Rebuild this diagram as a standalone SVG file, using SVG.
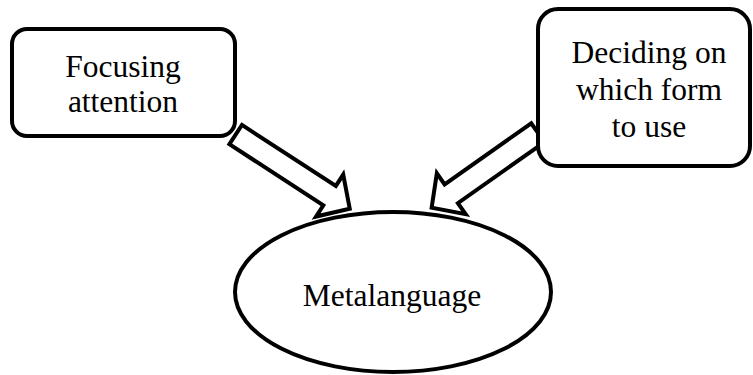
<svg xmlns="http://www.w3.org/2000/svg" width="753" height="375" viewBox="0 0 753 375">
<style>
.shape{fill:#fff;stroke:#000;stroke-width:4}
.arrow{fill:#fff;stroke:#000;stroke-width:4;stroke-linejoin:miter}
.lbl{font-family:"Liberation Serif","Times New Roman",serif;font-size:31.5px;fill:#000;text-anchor:middle}
</style>
<rect width="753" height="375" fill="#fff"/>
<g id="connectors">
<path class="arrow" transform="translate(234,133.5) rotate(33)" d="M2,-11.5 L114,-11.5 L114,-25 L138,0 L114,25 L114,11.5 L2,11.5 Z"/>
<path class="arrow" transform="translate(539.5,131.5) rotate(144.8)" d="M2,-11.5 L108,-11.5 L108,-25 L132,0 L108,25 L108,11.5 L2,11.5 Z"/>
</g>
<g id="node-focusing">
<rect class="shape" x="12" y="29" width="223" height="107" rx="15"/>
<text class="lbl" x="123" y="77">Focusing</text>
<text class="lbl" x="123" y="112">attention</text>
</g>
<g id="node-deciding">
<rect class="shape" x="538" y="9" width="212" height="157" rx="20"/>
<text class="lbl" x="649" y="63">Deciding on</text>
<text class="lbl" x="649" y="100">which form</text>
<text class="lbl" x="649" y="137">to use</text>
</g>
<g id="node-metalanguage">
<ellipse class="shape" cx="393" cy="292" rx="158" ry="80"/>
<text class="lbl" x="392" y="306">Metalanguage</text>
</g>
</svg>
